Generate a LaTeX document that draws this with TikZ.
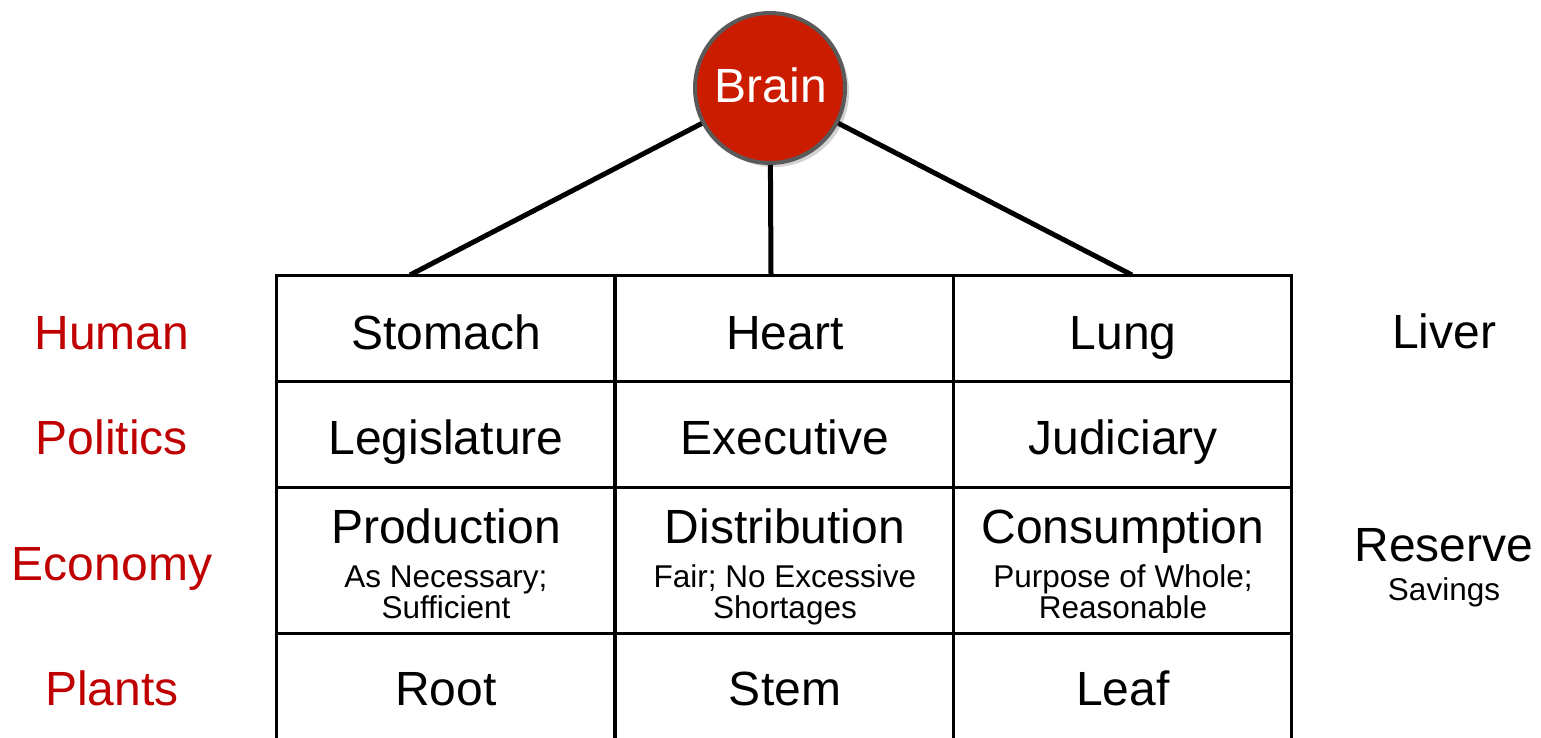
\documentclass[tikz,border=0pt]{standalone}
\usepackage{fontspec}
\setmainfont{Liberation Sans}
\usetikzlibrary{shadows}
\definecolor{lblred}{HTML}{C00000}
\definecolor{brainred}{HTML}{CC1C00}
\definecolor{braingray}{HTML}{5A5A5A}
\tikzset{
  cell/.style={draw=black, line width=3pt, minimum width=338pt, minimum height=106pt, inner sep=0pt},
  lastcell/.style={cell, minimum height=112pt},
  big/.style={font=\fontsize{48}{56}\selectfont, anchor=base, inner sep=0pt},
  small/.style={font=\fontsize{31.5}{32}\selectfont, anchor=base, inner sep=0pt},
  rowlabel/.style={big, text=lblred},
  spoke/.style={draw=black, line width=5pt},
  braincircle/.style={circle, fill=brainred, draw=braingray, line width=4pt, minimum size=150pt, inner sep=0pt,
     drop shadow={opacity=0.35, shadow xshift=4pt, shadow yshift=-4pt}}
}
\begin{document}
\begin{tikzpicture}[x=1pt, y=-1pt]
\useasboundingbox (0,0) rectangle (1541,738);
% table cells
\node[cell] (c11) at (445.5,328) {};
\node[cell] (c12) at (784,328) {};
\node[cell] (c13) at (1122,328) {};
\node[cell] (c21) at (445.5,434) {};
\node[cell] (c22) at (784,434) {};
\node[cell] (c23) at (1122,434) {};
\node[cell, minimum height=146pt] (c31) at (445.5,560) {};
\node[cell, minimum height=146pt] (c32) at (784,560) {};
\node[cell, minimum height=146pt] (c33) at (1122,560) {};
\node[lastcell] (c41) at (445.5,689) {};
\node[lastcell] (c42) at (784,689) {};
\node[lastcell] (c43) at (1122,689) {};
% spoke ends
\coordinate (t1) at (410,275);
\coordinate (t2) at (771,275);
\coordinate (t3) at (1132,275);
% brain
\node[braincircle] (brain) at (770,88) {};
\node[big, text=white] (braintxt) at (771,103) {Brain};
\draw[spoke] (brain) -- (t1);
\draw[spoke] (brain) -- (t2);
\draw[spoke] (brain) -- (t3);
% row labels
\node[rowlabel] (human) at (112,349) {Human};
\node[rowlabel] (politics) at (112,454) {Politics};
\node[rowlabel] (economy) at (112,580) {Economy};
\node[rowlabel] (plants) at (112,705) {Plants};
% row 1
\node[big] (stomach) at (446,349) {Stomach};
\node[big] (heart) at (785,349) {Heart};
\node[big] (lung) at (1123,349) {Lung};
\node[big] (liver) at (1444,348) {Liver};
% row 2
\node[big] (legis) at (446,454) {Legislature};
\node[big] (exec) at (785,454) {Executive};
\node[big] (judic) at (1123,454) {Judiciary};
% row 3
\node[big] (prod) at (446,543) {Production};
\node[small] (prodA) at (446,587) {As Necessary;};
\node[small] (prodB) at (446,618) {Sufficient};
\node[big] (dist) at (785,543) {Distribution};
\node[small] (distA) at (785,587) {Fair; No Excessive};
\node[small] (distB) at (785,618) {Shortages};
\node[big] (cons) at (1123,543) {Consumption};
\node[small] (consA) at (1123,587) {Purpose of Whole;};
\node[small] (consB) at (1123,618) {Reasonable};
\node[big] (reserve) at (1444,561) {Reserve};
\node[small] (savings) at (1444,600) {Savings};
% row 4
\node[big] (root) at (446,705) {Root};
\node[big] (stem) at (785,705) {Stem};
\node[big] (leaf) at (1123,705) {Leaf};
\end{tikzpicture}
\end{document}
